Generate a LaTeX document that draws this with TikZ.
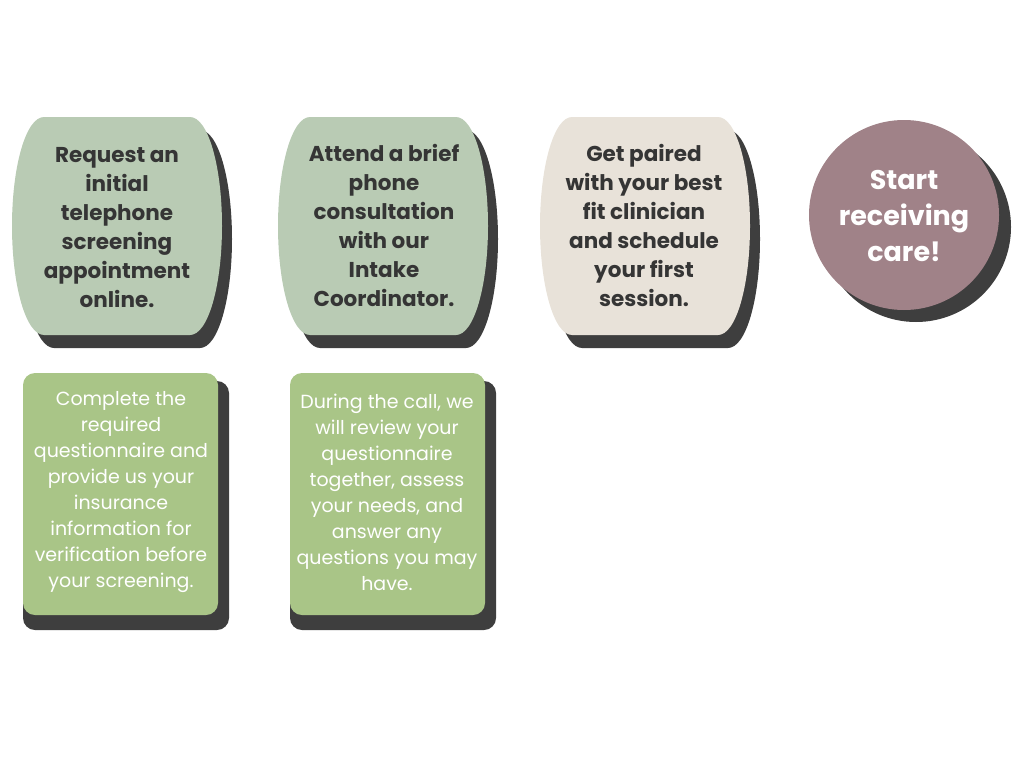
\documentclass[tikz,border=0pt]{standalone}
\usepackage{fontspec}
\setmainfont{Poppins}
\usepackage{xcolor}
\usepackage{tikz}
\usetikzlibrary{positioning}
\definecolor{sagegreen}{HTML}{B9CBB4}
\definecolor{leafgreen}{HTML}{A9C587}
\definecolor{sandbeige}{HTML}{E8E2D9}
\definecolor{dustmauve}{HTML}{A08288}
\definecolor{shadowgray}{HTML}{3E3E3E}
\definecolor{inkgray}{HTML}{353535}

% bulging step shape: left, right (top 117, bottom 335)
\newcommand{\bulgeshape}[2]{({#1+32},117) -- ({#2-32},117)
  .. controls ({#2-14},117) and (#2,166) .. (#2,226)
  .. controls (#2,286) and ({#2-14},335) .. ({#2-32},335)
  -- ({#1+32},335)
  .. controls ({#1+14},335) and (#1,286) .. (#1,226)
  .. controls (#1,166) and ({#1+14},117) .. cycle}

\begin{document}
\begin{tikzpicture}[
    x=1pt, y=-1pt,
    shadow/.style={fill=shadowgray},
    steptext/.style={align=center, text=inkgray, font=\fontsize{21.5}{29}\selectfont\bfseries, inner sep=0pt},
    notetext/.style={align=center, text=white, font=\fontsize{19}{26}\selectfont, inner sep=0pt},
    notebox/.style={fill=leafgreen, rounded corners=12pt}
]
\useasboundingbox (0,0) rectangle (1024,768);

% top row shapes
\fill[shadow, shift={(10,13)}] \bulgeshape{12}{222};
\fill[sagegreen] \bulgeshape{12}{222};
\fill[shadow, shift={(10,13)}] \bulgeshape{278}{488};
\fill[sagegreen] \bulgeshape{278}{488};
\fill[shadow, shift={(10,13)}] \bulgeshape{540}{750};
\fill[sandbeige] \bulgeshape{540}{750};
\fill[shadow] (916,227) circle (95);
\fill[dustmauve] (904,215) circle (95);

% lower notes
\fill[shadow, rounded corners=12pt] (23,381) rectangle (229,630);
\fill[notebox] (23,373) rectangle (218,615);
\fill[shadow, rounded corners=12pt] (290,381) rectangle (496,630);
\fill[notebox] (290,373) rectangle (485,615);

\node[steptext] (request) at (117,228) {Request an\\initial\\telephone\\screening\\appointment\\online.};
\node[steptext] (attend) at (384,225) {Attend a brief\\phone\\consultation\\with our\\Intake\\Coordinator.};
\node[steptext] (paired) at (644,225) {Get paired\\with your best\\fit clinician\\and schedule\\your first\\session.};
\node[steptext, text=white, font=\fontsize{27}{36}\selectfont\bfseries] (start) at (904,216) {Start\\receiving\\care!};

\node[notetext] (complete) at (121,492) {Complete the\\required\\questionnaire and\\provide us your\\insurance\\information for\\verification before\\your screening.};
\node[notetext] (during) at (387,492) {During the call, we\\will review your\\questionnaire\\together, assess\\your needs, and\\answer any\\questions you may\\have.};

\end{tikzpicture}
\end{document}
